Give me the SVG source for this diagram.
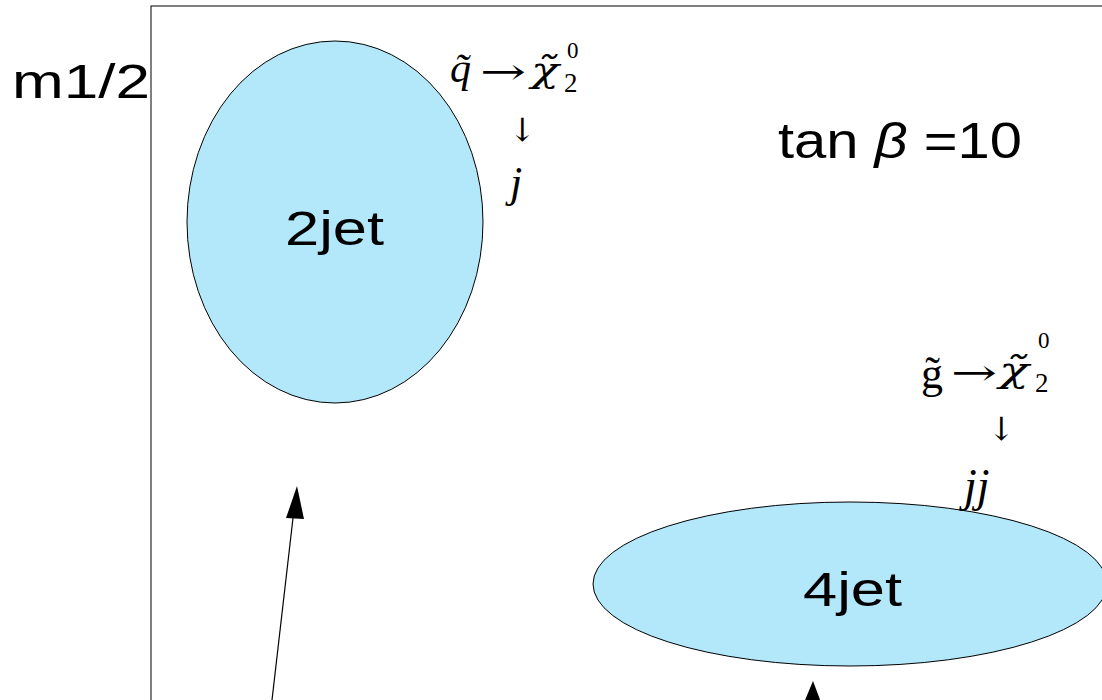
<svg xmlns="http://www.w3.org/2000/svg" width="1102" height="700" viewBox="0 0 1102 700">
<defs>
<style>
.sans{font-family:"Liberation Sans",Arial,sans-serif;fill:#000}
.serif{font-family:"Liberation Serif","Times New Roman",serif;fill:#000}
.sym{font-family:"DejaVu Serif",serif;fill:#000}
.it{font-style:italic}
.blob{fill:#b3e8fb;stroke:#000;stroke-width:1}
</style>
</defs>
<rect width="1102" height="700" fill="#fff"/>
<rect x="151" y="6" width="1000" height="760" fill="none" stroke="#000" stroke-width="1"/>
<text class="sans" x="12" y="98" font-size="48" textLength="138" lengthAdjust="spacingAndGlyphs">m1/2</text>
<g id="n2jet">
<ellipse class="blob" cx="335" cy="222" rx="148" ry="181"/>
<text class="sans" x="285" y="245" font-size="48" textLength="99" lengthAdjust="spacingAndGlyphs">2jet</text>
</g>
<g id="n4jet">
<ellipse class="blob" cx="850" cy="584" rx="257" ry="82"/>
<text class="sans" x="803" y="606" font-size="48" textLength="99" lengthAdjust="spacingAndGlyphs">4jet</text>
</g>
<g id="tanb">
<text class="sans" x="778" y="158" font-size="50" textLength="244" lengthAdjust="spacingAndGlyphs">tan <tspan class="it">β</tspan> =10</text>
</g>
<g id="f1">
<text class="serif it" x="450" y="82" font-size="42">q̃</text>
<text class="sym" x="480" y="84" font-size="36" textLength="46" lengthAdjust="spacingAndGlyphs">→</text>
<text class="sym it" x="531" y="82" font-size="36" textLength="28" lengthAdjust="spacingAndGlyphs">χ̃</text>
<text class="serif" x="564" y="92" font-size="27">2</text>
<text class="serif" x="567" y="58" font-size="23">0</text>
<text class="sym" x="509" y="141" font-size="32">↓</text>
<text class="serif it" x="510" y="197" font-size="44">j</text>
</g>
<g id="f2">
<text class="serif" x="921" y="388" font-size="44">g̃</text>
<text class="sym" x="951" y="385" font-size="36" textLength="46" lengthAdjust="spacingAndGlyphs">→</text>
<text class="sym it" x="999" y="382" font-size="36" textLength="30" lengthAdjust="spacingAndGlyphs">χ̃</text>
<text class="serif" x="1035" y="392" font-size="27">2</text>
<text class="serif" x="1038" y="348" font-size="23">0</text>
<text class="sym" x="988" y="440" font-size="32">↓</text>
<text class="serif it" x="964" y="501" font-size="46">jj</text>
</g>
<g id="connectors" stroke="#000" stroke-width="1.2">
<line x1="272" y1="700" x2="293" y2="518"/>
<polygon points="297,486 286,518 304,519" fill="#000" stroke="none"/>
<polygon points="813,681 803,705 822,705" fill="#000" stroke="none"/>
</g>
</svg>
